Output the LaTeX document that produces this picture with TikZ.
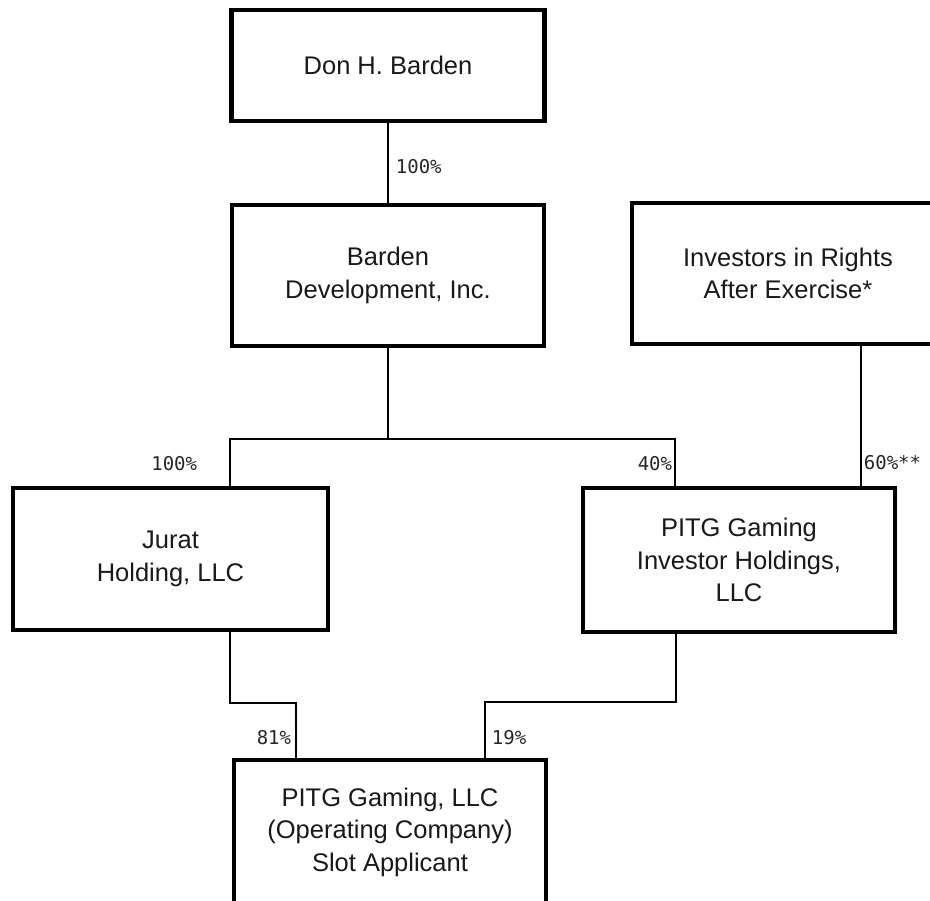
\documentclass[tikz,border=0pt]{standalone}
\usepackage{fontspec}
\setmainfont{Liberation Sans}
\newfontfamily\pctfont{DejaVu Sans Mono}

\begin{document}
\begin{tikzpicture}[
    x=1pt, y=-1pt,
    line width=1.8pt,
    orgnode/.style={
        rectangle,
        draw,
        line width=4.5pt,
        inner sep=0pt,
        minimum width=312pt,
        minimum height=141pt,
        align=center,
        text=black!90,
        font=\fontsize{25.5}{32.5}\selectfont,
    },
    pctnode/.style={
        inner sep=0pt,
        text=black!85,
        font=\pctfont\fontsize{19}{20}\selectfont,
    },
]

    \useasboundingbox (0,0) rectangle (930,901);
    \clip (0,0) rectangle (930,901);

    \node[orgnode, minimum width=313pt, minimum height=111pt] (don) at (388,65.5) {Don H. Barden};
    \node[orgnode] (bdi)   at (388,275.5) {Barden\\Development, Inc.};
    \node[orgnode] (inv)   at (788,273.5) {Investors in Rights\\After Exercise*};
    \node[orgnode, minimum width=315pt, minimum height=142pt] (jurat) at (170.5,559) {Jurat\\Holding, LLC};
    \node[orgnode, minimum height=144pt] (hold)  at (739,560) {PITG Gaming\\Investor Holdings,\\LLC};
    \node[orgnode, minimum height=144pt] (llc)   at (390,832) {PITG Gaming, LLC\\(Operating Company)\\Slot Applicant};

    \coordinate (ja) at (230,439);
    \coordinate (ha) at (675,439);
    \coordinate (ra) at (861,400);
    \coordinate (jb) at (230,703);
    \coordinate (jc) at (296,703);
    \coordinate (hb) at (676,702);
    \coordinate (hc) at (485,702);

    \draw (don.south) -- (bdi.north);
    \draw (bdi.south) -- (bdi.south |- ja);
    \draw (jurat.north -| ja) -- (ja) -- (ha) -- (hold.north -| ha);
    \draw (inv.south -| ra) -- (hold.north -| ra);
    \draw (jurat.south -| jb) -- (jb) -- (jc) -- (llc.north -| jc);
    \draw (hold.south -| hb) -- (hb) -- (hc) -- (llc.north -| hc);

    \node[pctnode, anchor=west] (p100a) at (395,167) {100\%};
    \node[pctnode, anchor=east] (p100b) at (198,464) {100\%};
    \node[pctnode, anchor=east] (p40)   at (673,464) {40\%};
    \node[pctnode, anchor=west] (p60)   at (863,463) {60\%**};
    \node[pctnode, anchor=east] (p81)   at (292,738) {81\%};
    \node[pctnode, anchor=west] (p19)   at (491,738) {19\%};

\end{tikzpicture}
\end{document}
